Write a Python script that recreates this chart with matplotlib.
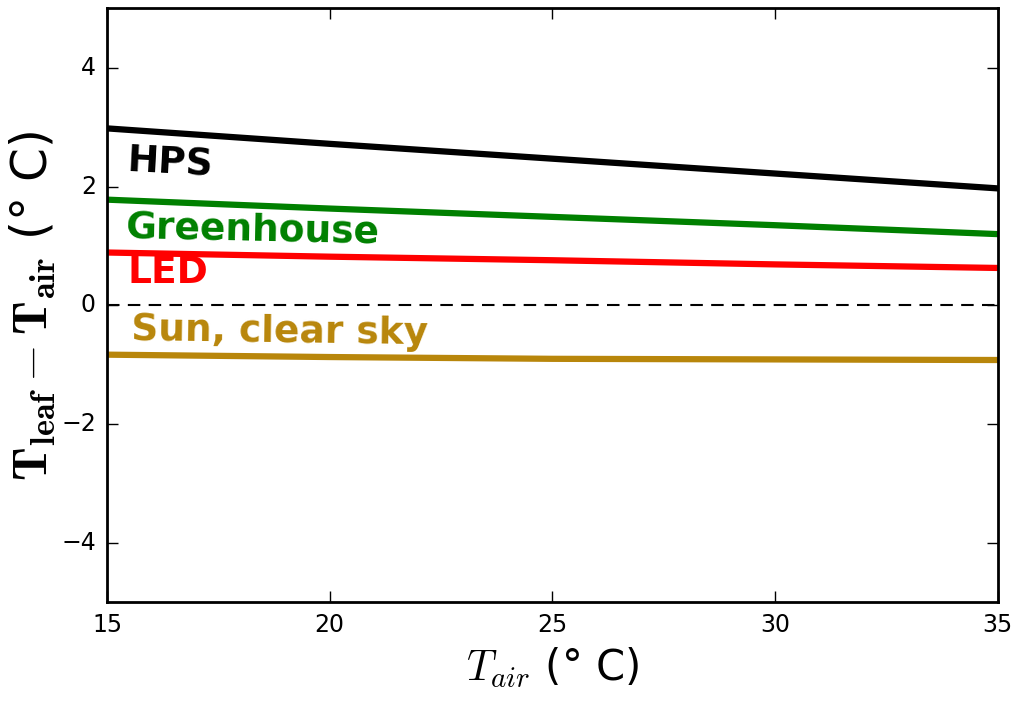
import numpy as np
import matplotlib
matplotlib.use('Agg')
import matplotlib.pyplot as plt

plt.style.use('classic')

t_air = [15, 20, 25, 30, 35]
hps = [2.98, 2.72, 2.47, 2.22, 1.97]
greenhouse = [1.78, 1.63, 1.49, 1.35, 1.20]
led = [0.89, 0.82, 0.76, 0.69, 0.63]
sun = [-0.83, -0.87, -0.90, -0.91, -0.92]

names = ['HPS', 'Greenhouse', 'LED', 'Sun, clear sky']
colors = ['black', 'green', 'red', 'darkgoldenrod']
series = [hps, greenhouse, led, sun]
label_pos = [(15.45, 2.42, -3), (15.4, 1.31, -1.2), (15.45, 0.55, 0), (15.55, -0.42, -0.8)]

fig = plt.figure(figsize=(10.2, 7.02), dpi=100)
fig.patch.set_facecolor('white')
ax = fig.add_axes([0.105, 0.142, 0.873, 0.846])

for y, c in zip(series, colors):
    ax.plot(t_air, y, color=c, lw=4.5)
ax.axhline(0, color='black', ls=(0, (9, 6)), lw=1.5)

for name, c, (x, y, rot) in zip(names, colors, label_pos):
    ax.text(x, y, name, color=c, fontsize=27, fontweight='bold', rotation=rot,
            rotation_mode='anchor', ha='left', va='center')

ax.set_xlim(15, 35)
ax.set_ylim(-5, 5)
ax.set_xticks([15, 20, 25, 30, 35])
ax.set_yticks([-4, -2, 0, 2, 4])
ax.tick_params(labelsize=17, length=8, width=1, pad=8)
for s in ax.spines.values():
    s.set_linewidth(2)

ax.set_xlabel(r'$T_{air}$ (° C)', fontsize=30, labelpad=6)
ax.set_ylabel(r'$\mathbf{T_{leaf}-T_{air}}$ (° C)', fontsize=35, labelpad=2)

fig.savefig('out.png', dpi=100, facecolor='white')
